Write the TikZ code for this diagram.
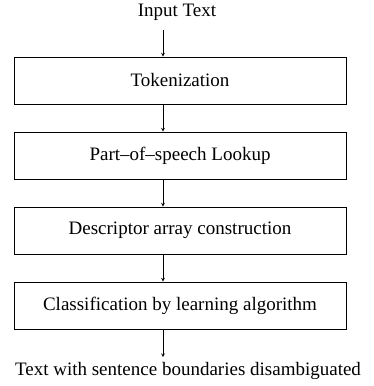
\documentclass[tikz,border=0pt]{standalone}
\usepackage{fontspec}
\setmainfont{Liberation Serif}
\usepackage{tikz}
\usetikzlibrary{arrows, positioning}
\tikzset{
  stage/.style={rectangle, minimum width=332pt, minimum height=47pt, text centered, draw=black, line width=0.8pt, font=\fontsize{19}{22}\selectfont},
  label/.style={font=\fontsize{19}{22}\selectfont, inner sep=0pt},
  arrow/.style={line width=0.7pt, ->, >=stealth}
}
\begin{document}
\begin{tikzpicture}[node distance=75pt]
\useasboundingbox (0,0) rectangle (374pt,386pt);

% Nodes
\node (input) [label] at (177pt,374pt) {Input Text};
\node (tok) [stage] at (180pt,305.5pt) {Tokenization};
\node (pos) [stage, below of=tok] {Part--of--speech Lookup};
\node (desc) [stage, below of=pos] {Descriptor array construction};
\node (class) [stage, below of=desc] {Classification by learning algorithm};
\node (output) [label] at (188pt,15pt) {Text with sentence boundaries disambiguated};

% Arrows
\draw [arrow] ([xshift=-14pt,yshift=-10pt]input.south) -- ([xshift=-17pt]tok.north);
\draw [arrow] ([xshift=-17pt]tok.south) -- ([xshift=-17pt]pos.north);
\draw [arrow] ([xshift=-17pt]pos.south) -- ([xshift=-17pt]desc.north);
\draw [arrow] ([xshift=-17pt]desc.south) -- ([xshift=-17pt]class.north);
\draw [arrow] ([xshift=-17pt]class.south) -- ([xshift=-25pt,yshift=5pt]output.north);
\end{tikzpicture}
\end{document}
